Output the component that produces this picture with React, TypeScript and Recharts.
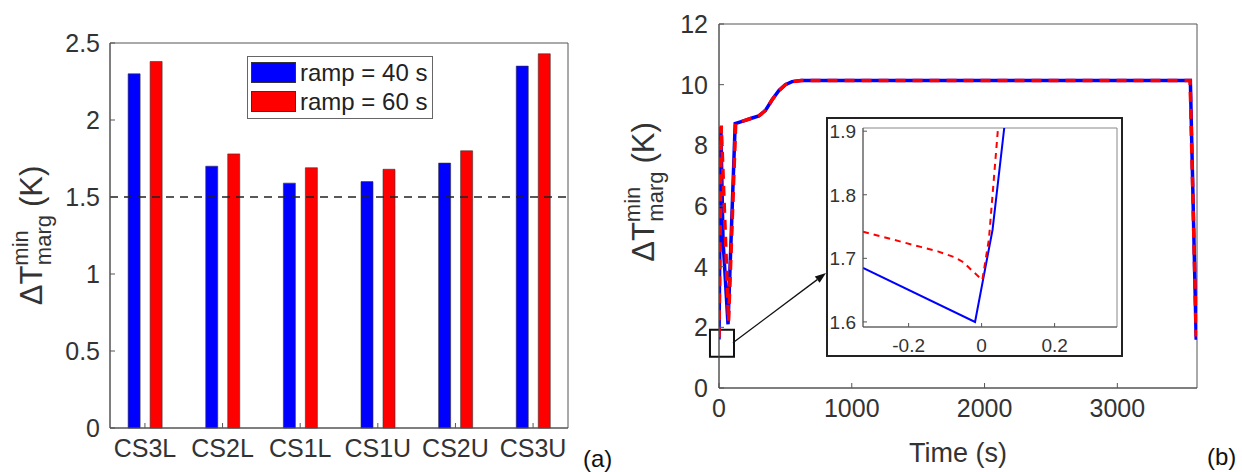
import React from 'react';
import {
  BarChart, Bar, XAxis, YAxis, ReferenceLine, ReferenceArea, Legend,
  LineChart, Line,
} from 'recharts';

// (a) minimum temperature margin per coil
const categories = ['CS3L', 'CS2L', 'CS1L', 'CS1U', 'CS2U', 'CS3U'];
const ramp40 = [2.30, 1.70, 1.59, 1.60, 1.72, 2.35];
const ramp60 = [2.38, 1.78, 1.69, 1.68, 1.80, 2.43];
const barTicks = [0, 0.5, 1, 1.5, 2, 2.5];
const marginLimit = 1.5;

// (b) time evolution
const time40 = [0, 14, 30, 68, 122, 180, 250, 300, 350, 400, 450, 500, 550, 620, 3550, 3594];
const dT40 = [1.6, 8.6, 4.9, 2.1, 8.72, 8.8, 8.9, 8.97, 9.15, 9.5, 9.8, 10.0, 10.1, 10.14, 10.14, 1.59];
const time60 = [0, 17, 72, 126, 180, 250, 300, 350, 400, 450, 500, 550, 620, 3548, 3594];
const dT60 = [1.67, 8.65, 2.2, 8.72, 8.8, 8.9, 8.97, 9.15, 9.5, 9.8, 10.0, 10.1, 10.14, 10.14, 1.7];
const timeTicks = [0, 1000, 2000, 3000];
const dTTicks = [0, 2, 4, 6, 8, 10, 12];

// inset zoom around t = 0
const zoomT40 = [-0.325, -0.018, 0.03, 0.062];
const zoomV40 = [1.685, 1.600, 1.745, 1.905];
const zoomT60 = [-0.325, -0.167, -0.12, -0.076, -0.05, -0.025, 0.002, 0.02, 0.045];
const zoomV60 = [1.742, 1.718, 1.711, 1.702, 1.694, 1.680, 1.666, 1.73, 1.905];
const zoomXTicks = [-0.2, 0, 0.2];
const zoomYTicks = [1.6, 1.7, 1.8, 1.9];
const zoomBoxT = [-68, 113];
const zoomBoxV = [1.03, 1.92];
const arrowFrom = { x: 105, y: 1.49 };
const arrowTo = { x: 806, y: 3.79 };

const barData = categories.map((name, i) => ({ pos: i + 1, name, r40: ramp40[i], r60: ramp60[i] }));
const series40 = time40.map((t, i) => ({ t, v: dT40[i] }));
const series60 = time60.map((t, i) => ({ t, v: dT60[i] }));
const zoom40 = zoomT40.map((t, i) => ({ t, v: zoomV40[i] }));
const zoom60 = zoomT60.map((t, i) => ({ t, v: zoomV60[i] }));

const FONT = '"Liberation Sans", Arial, sans-serif';
const AXIS = '#555';
const TXT = '#333';
const BLUE = '#0000ff';
const RED = '#ff0000';

const yLabel = (baseX: number, centerY?: number) => (props: any) => {
  const vb = props.viewBox || {};
  const cx = vb.x + baseX;
  const cy = centerY ?? vb.y + vb.height / 2;
  return (
    <text transform={`rotate(-90 ${cx} ${cy})`} x={cx} y={cy} textAnchor="middle" fill={TXT} fontFamily={FONT}>
      <tspan fontSize={31}>ΔT</tspan>
      <tspan fontSize={22} dy={-14}>min</tspan>
      <tspan fontSize={22} dx={-35} dy={23}>marg</tspan>
      <tspan fontSize={31} dx={8} dy={-9}>(K)</tspan>
    </text>
  );
};

const Arrow = (p: any) => {
  const { x1, y1, x2, y2 } = p;
  const a = Math.atan2(y2 - y1, x2 - x1);
  const L = 11, W = 4;
  const bx = x2 - L * Math.cos(a), by = y2 - L * Math.sin(a);
  const pts = `${x2},${y2} ${bx + W * Math.sin(a)},${by - W * Math.cos(a)} ${bx - W * Math.sin(a)},${by + W * Math.cos(a)}`;
  return (
    <g>
      <line x1={x1} y1={y1} x2={bx} y2={by} stroke="#111" strokeWidth={1.3} />
      <polygon points={pts} fill="#111" />
    </g>
  );
};

const LegendBox = ({ payload }: any) => (
  <div style={{ width: 186, height: 63, border: '1px solid #666', background: '#fff', boxSizing: 'border-box', padding: '1px 0 0 3px', fontFamily: FONT }}>
    {(payload || []).map((p: any) => (
      <div key={p.value} style={{ display: 'flex', alignItems: 'center', height: 29 }}>
        <span style={{ width: 45, height: 21, background: p.color, border: '1px solid #333', boxSizing: 'border-box', marginRight: 4 }} />
        <span style={{ fontSize: 24, color: '#222', lineHeight: '24px' }}>{p.value}</span>
      </div>
    ))}
  </div>
);

const tickStyle = { fill: TXT, fontSize: 25, fontFamily: FONT };

export default function App() {
  return (
    <div style={{ position: 'relative', width: 1242, height: 472, background: '#fff', fontFamily: FONT }}>
      <style>{'body{margin:0}'}</style>

      {/* (a) bar chart */}
      <div style={{ position: 'absolute', left: 0, top: 0 }}>
        <BarChart width={600} height={472} data={barData} barSize={12} barGap={10}
          margin={{ top: 43, right: 32, bottom: 14, left: 0 }}>
          <XAxis type="number" dataKey="pos" domain={[0.55, 6.45]} ticks={[1, 2, 3, 4, 5, 6]}
            tickFormatter={(v: number) => categories[v - 1]} height={30} stroke={AXIS}
            tickSize={-5} tickMargin={16} tick={tickStyle} interval={0} />
          <YAxis domain={[0, 2.5]} ticks={barTicks} width={110} stroke={AXIS} tickSize={-5} tickMargin={15}
            tick={tickStyle} label={yLabel(42)} />
          <ReferenceArea x1={0.55} x2={6.45} y1={0} y2={2.5} fill="none" fillOpacity={0} stroke={AXIS} strokeWidth={1} />
          <ReferenceLine y={marginLimit} stroke="#222" strokeWidth={1.5} strokeDasharray="8 6" />
          <Bar dataKey="r40" name="ramp = 40 s" fill={BLUE} stroke="#333" strokeWidth={0.6} isAnimationActive={false} />
          <Bar dataKey="r60" name="ramp = 60 s" fill={RED} stroke="#333" strokeWidth={0.6} isAnimationActive={false} />
          <Legend layout="horizontal" verticalAlign="middle" align="center" content={<LegendBox />}
            wrapperStyle={{ left: 247, top: 56, width: 186, height: 63 }} />
        </BarChart>
      </div>
      <div style={{ position: 'absolute', left: 583, top: 445, fontSize: 24, color: '#111' }}>(a)</div>

      {/* (b) time evolution */}
      <div style={{ position: 'absolute', left: 600, top: 0 }}>
        <LineChart width={642} height={472} margin={{ top: 24, right: 45, bottom: 34, left: 0 }}>
          <XAxis type="number" dataKey="t" domain={[0, 3600]} ticks={timeTicks} allowDataOverflow height={50}
            stroke={AXIS} tickSize={-5} tickMargin={16} tick={tickStyle}
            label={{ value: 'Time (s)', position: 'bottom', offset: 5, fill: TXT, fontSize: 27, fontFamily: FONT }} />
          <YAxis type="number" domain={[0, 12]} ticks={dTTicks} width={119} stroke={AXIS} tickSize={-5}
            tickMargin={16} tick={tickStyle} label={yLabel(54, 192)} />
          <ReferenceArea x1={0} x2={3600} y1={0} y2={12} fill="none" fillOpacity={0} stroke={AXIS} strokeWidth={1} />
          <Line data={series40} dataKey="v" type="linear" stroke={BLUE} strokeWidth={3.5} dot={false} isAnimationActive={false} />
          <Line data={series60} dataKey="v" type="linear" stroke={RED} strokeWidth={3.5} strokeDasharray="10 7" dot={false} isAnimationActive={false} />
          <ReferenceArea x1={zoomBoxT[0]} x2={zoomBoxT[1]} y1={zoomBoxV[0]} y2={zoomBoxV[1]} ifOverflow="visible"
            fill="none" fillOpacity={0} stroke="#111" strokeWidth={2} />
          <ReferenceLine segment={[arrowFrom, arrowTo]} ifOverflow="visible" shape={Arrow} />
        </LineChart>
      </div>
      <div style={{ position: 'absolute', left: 1207, top: 443, fontSize: 24, color: '#111' }}>(b)</div>

      {/* inset */}
      <div style={{ position: 'absolute', left: 826, top: 117, width: 297, height: 240, border: '2px solid #222', background: '#fff', boxSizing: 'border-box' }}>
        <LineChart width={293} height={236} margin={{ top: 9, right: 4, bottom: 0, left: 0 }}>
          <XAxis type="number" dataKey="t" domain={[-0.325, 0.371]} ticks={zoomXTicks} allowDataOverflow height={28}
            stroke={AXIS} tickSize={-4} tickMargin={16} tick={{ ...tickStyle, fontSize: 19 }} />
          <YAxis type="number" domain={[1.592, 1.905]} ticks={zoomYTicks} allowDataOverflow width={35} stroke={AXIS}
            tickSize={-4} tickMargin={11} tick={{ ...tickStyle, fontSize: 19 }} />
          <ReferenceArea x1={-0.325} x2={0.371} y1={1.592} y2={1.905} fill="none" fillOpacity={0} stroke="#888" strokeWidth={1} />
          <Line data={zoom40} dataKey="v" type="linear" stroke={BLUE} strokeWidth={2} dot={false} isAnimationActive={false} />
          <Line data={zoom60} dataKey="v" type="linear" stroke={RED} strokeWidth={2} strokeDasharray="6 5" dot={false} isAnimationActive={false} />
        </LineChart>
      </div>
    </div>
  );
}
